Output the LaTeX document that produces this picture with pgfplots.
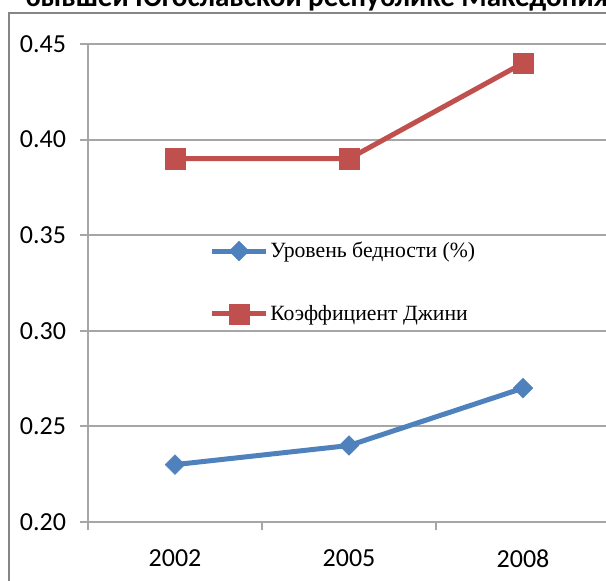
\documentclass[border=0pt]{standalone}
\usepackage{fontspec}
\setmainfont{Carlito}
\newfontfamily\legfont{Liberation Serif}
\usepackage{pgfplots}
\pgfplotsset{compat=1.18}
\definecolor{serblue}{HTML}{4F81BD}
\definecolor{serred}{HTML}{C0504D}
\definecolor{gridgray}{HTML}{A6A6A6}
\definecolor{bordergray}{HTML}{868686}
\begin{document}
\begin{tikzpicture}
\useasboundingbox (0,0) rectangle (454.5pt,435.75pt);
\clip (0,0) rectangle (454.5pt,435.75pt);
\draw[bordergray, line width=1.5pt] (6.75pt,-20pt) rectangle (520pt,426pt);
\node[anchor=base west, inner sep=0pt, font=\bfseries\fontsize{21.8}{26}\selectfont] at (18.75pt,430.5pt) {бывшей Югославской республике Македония};
\begin{axis}[
  at={(66pt,44.25pt)}, anchor=south west,
  scale only axis, width=391.5pt, height=358.5pt,
  xmin=-0.5, xmax=2.5, ymin=0.2, ymax=0.45,
  axis x line*=bottom, axis y line*=left,
  axis line style={gridgray, line width=1.5pt},
  ytick={0.2,0.25,0.3,0.35,0.4,0.45},
  ymajorgrids, grid style={gridgray, line width=1.5pt},
  xtick={-0.5,0.5,1.5,2.5},
  xticklabels={2002,2005,2008},
  x tick label as interval,
  tick align=outside, major tick length=6pt,
  tick style={gridgray, line width=1.5pt},
  ticklabel style={font=\fontsize{19.5}{23}\selectfont, text=black},
  yticklabel style={xshift=-7pt, /pgf/number format/fixed, /pgf/number format/fixed zerofill, /pgf/number format/precision=2, /pgf/number format/assume math mode=true},
  xticklabel style={yshift=-11pt},
  legend style={draw=none, fill=none, at={(0.2318,0.501)}, anchor=west,
    font=\legfont\fontsize{16.3}{19}\selectfont, row sep=32pt, inner sep=0pt,
    nodes={inner sep=1pt}},
  legend cell align=left,
  legend image code/.code={\draw[mark repeat=2,mark phase=2,#1] plot coordinates {(0pt,0pt)(20.5pt,0pt)(41pt,0pt)};},
]
\addplot[serblue, line width=3.75pt, mark=square*, mark size=5.2pt, mark options={rotate=45, line width=0.4pt}] coordinates {(0,0.23)(1,0.24)(2,0.27)};
\addlegendentry{Уровень бедности (\%)}
\addplot[serred, line width=3.75pt, mark=square*, mark size=7.6pt, mark options={line width=0.4pt}] coordinates {(0,0.39)(1,0.39)(2,0.44)};
\addlegendentry{Коэффициент Джини}
\end{axis}
\end{tikzpicture}
\end{document}
